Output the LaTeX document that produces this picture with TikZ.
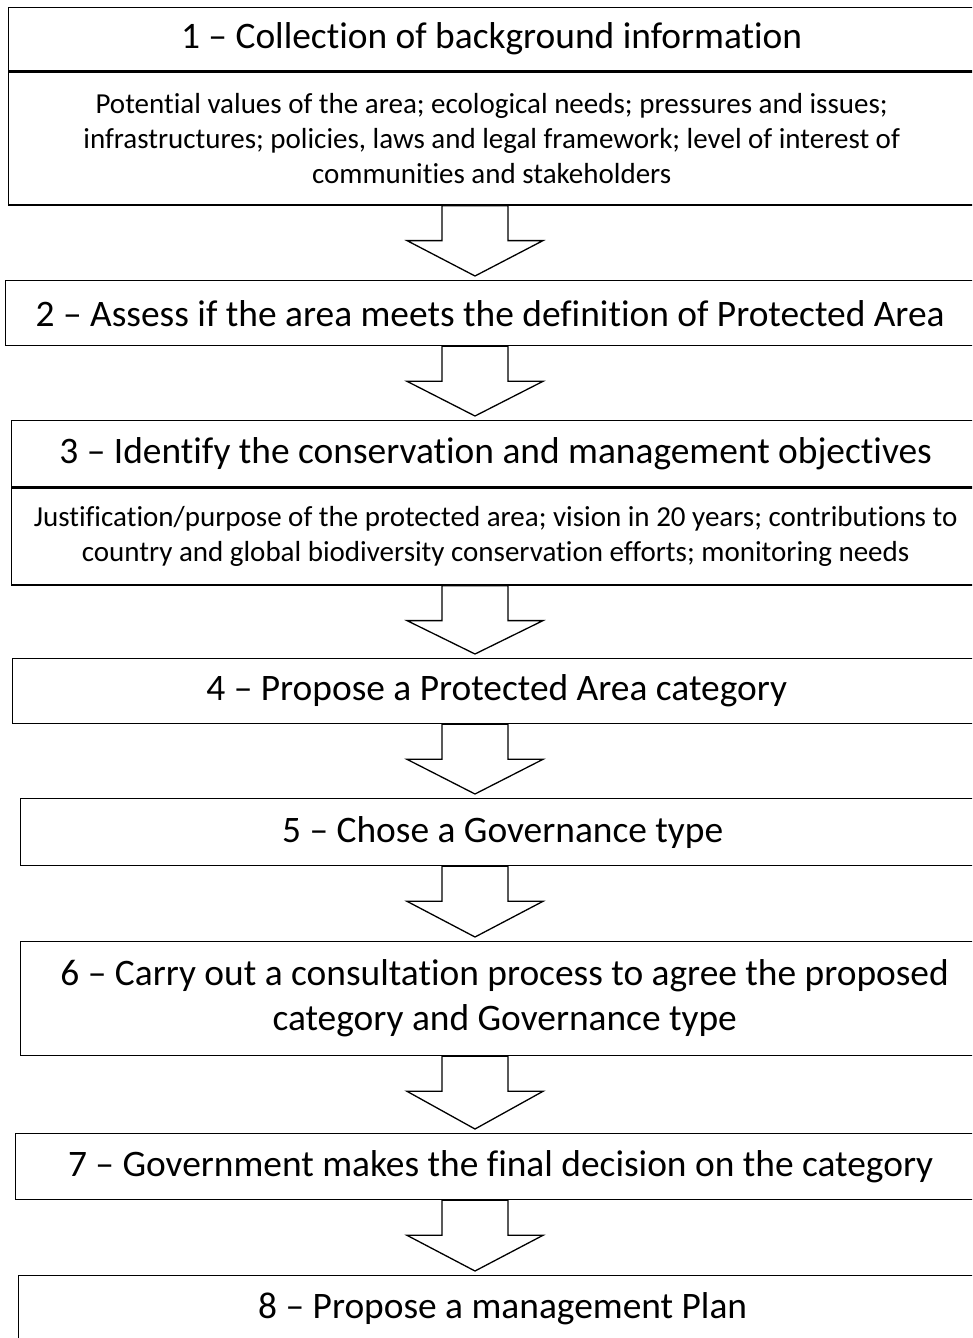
\documentclass[tikz,border=0pt]{standalone}
\usepackage{fontspec}
\setmainfont{Carlito}[Ligatures=NoCommon]
\usetikzlibrary{calc}

% hollow down arrow from the foot of one box to the head of the next
\newcommand{\flowarrow}[2]{%
  \draw[blockarrow] ($(ax |- #1.south)+(-33,0)$) -- ($(ax |- #1.south)+(-33,35)$)
     -- ($(ax |- #1.south)+(-68,35)$) -- ($(ax |- #2.north)+(0,-4)$)
     -- ($(ax |- #1.south)+(68,35)$) -- ($(ax |- #1.south)+(33,35)$)
     -- ($(ax |- #1.south)+(33,0)$) -- cycle;}

\begin{document}
\begin{tikzpicture}[x=1pt,y=-1pt,line width=1.3pt,
    titlebox/.style={draw,anchor=north west,inner sep=0pt,align=center,
                     font=\fontsize{37.4}{45}\selectfont},
    notebox/.style={titlebox,font=\fontsize{29}{35}\selectfont},
    blockarrow/.style={draw,fill=white,line join=miter}]
  \useasboundingbox (0,0) rectangle (972,1338);
  \clip (0,0) rectangle (972,1338);
  \coordinate (ax) at (475,0);

  \node[titlebox,minimum width=966,minimum height=63] (t1) at (8,7)
       {1 – Collection of background information};
  \node[notebox,minimum width=966,minimum height=133] (n1) at (t1.south west)
       {Potential values of the area; ecological needs; pressures and issues;\\
        infrastructures; policies, laws and legal framework; level of interest of\\
        communities and stakeholders};
  \node[titlebox,minimum width=969,minimum height=65] (t2) at (5,280)
       {2 – Assess if the area meets the definition of Protected Area};
  \node[titlebox,minimum width=968,minimum height=66] (t3) at (11,420)
       {3 – Identify the conservation and management objectives};
  \node[notebox,minimum width=968,minimum height=97] (n3) at (t3.south west)
       {Justification/purpose of the protected area; vision in 20 years; contributions to\\
        country and global biodiversity conservation efforts; monitoring needs};
  \node[titlebox,minimum width=968,minimum height=65] (t4) at (12,658)
       {4 – Propose a Protected Area category};
  \node[titlebox,minimum width=964,minimum height=67] (t5) at (20,798)
       {5 – Chose a Governance type};
  \node[titlebox,minimum width=968,minimum height=114] (t6) at (20,941)
       {6 – Carry out a consultation process to agree the proposed\\
        category and Governance type};
  \node[titlebox,minimum width=970,minimum height=66] (t7) at (15,1133)
       {7 – Government makes the final decision on the category};
  \node[titlebox,minimum width=968,minimum height=66] (t8) at (18,1275)
       {8 – Propose a management Plan};

  \flowarrow{n1}{t2}
  \flowarrow{t2}{t3}
  \flowarrow{n3}{t4}
  \flowarrow{t4}{t5}
  \flowarrow{t5}{t6}
  \flowarrow{t6}{t7}
  \flowarrow{t7}{t8}
\end{tikzpicture}
\end{document}
